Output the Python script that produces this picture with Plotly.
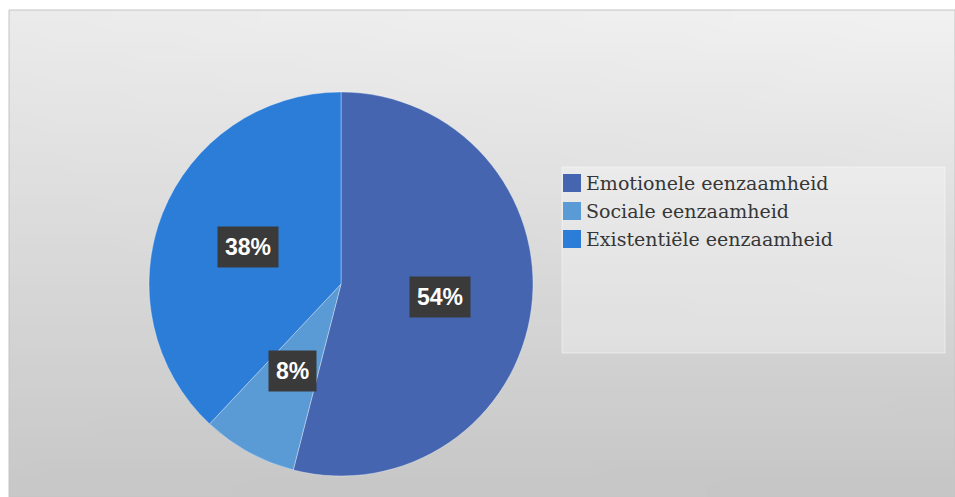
import base64
import math
import struct
import zlib

import plotly.graph_objects as go

# Survey breakdown of loneliness types
labels = ["Emotionele eenzaamheid", "Sociale eenzaamheid", "Existentiële eenzaamheid"]
values = [54, 8, 38]
colors = ["#4565b0", "#5b9bd5", "#2b7dd8"]

W, H = 955, 497

# Pie geometry in pixels
CX, CY, R = 341, 284, 192


def gradient_png(w, h, tl, tr, bl, br):
    """Small bilinear grey gradient encoded as a PNG data URI."""
    rows = b""
    for j in range(h):
        v = j / (h - 1)
        row = b"\x00"
        for i in range(w):
            u = i / (w - 1)
            c = (tl * (1 - u) * (1 - v) + tr * u * (1 - v)
                 + bl * (1 - u) * v + br * u * v)
            c = int(round(c))
            row += bytes([c, c, c])
        rows += row

    def chunk(tag, data):
        return (struct.pack(">I", len(data)) + tag + data
                + struct.pack(">I", zlib.crc32(tag + data) & 0xFFFFFFFF))

    png = b"\x89PNG\r\n\x1a\n"
    png += chunk(b"IHDR", struct.pack(">IIBBBBB", w, h, 8, 2, 0, 0, 0))
    png += chunk(b"IDAT", zlib.compress(rows, 9))
    png += chunk(b"IEND", b"")
    return "data:image/png;base64," + base64.b64encode(png).decode()


bg = gradient_png(32, 24, 0xEB, 0xF1, 0xC8, 0xC6)

fig = go.Figure()

fig.add_trace(go.Pie(
    labels=labels,
    values=values,
    marker=dict(colors=colors, line=dict(color="rgba(255,255,255,0.35)", width=1)),
    sort=False,
    direction="clockwise",
    rotation=0,
    textinfo="none",
    hoverinfo="label+percent",
    showlegend=False,
    domain=dict(x=[(CX - R) / W, (CX + R) / W],
                y=[1 - (CY + R) / H, 1 - (CY - R) / H]),
))

# Percentage labels placed at the middle of each slice
total = sum(values)
annotations = []
cum = 0
for lab, val in zip(labels, values):
    mid = (cum + val / 2) / total * 2 * math.pi
    cum += val
    r = 0.52 * R
    px = CX + r * math.sin(mid)
    py = CY - r * math.cos(mid)
    annotations.append(dict(
        x=px / W, y=1 - py / H, xref="paper", yref="paper",
        text=f"<b>{round(val / total * 100)}%</b>",
        showarrow=False,
        font=dict(family="Liberation Sans, Arial, sans-serif", size=23, color="#ffffff"),
        bgcolor="#3a3a3a",
        borderpad=7,
        xanchor="center", yanchor="middle",
    ))

# Legend panel
LX0, LY0, LX1, LY1 = 562, 167, 945, 353
shapes = [
    dict(type="rect", xref="paper", yref="paper",
         x0=9 / W, x1=1.0, y0=0, y1=1 - 10 / H,
         line=dict(color="#c4c4c4", width=1), fillcolor="rgba(0,0,0,0)", layer="below"),
    dict(type="rect", xref="paper", yref="paper",
         x0=LX0 / W, x1=LX1 / W, y0=1 - LY1 / H, y1=1 - LY0 / H,
         line=dict(color="rgba(255,255,255,0.45)", width=1),
         fillcolor="rgba(255,255,255,0.30)", layer="below"),
]
ROW0, ROW_STEP, SQ = 183, 28, 18
for k, (lab, col) in enumerate(zip(labels, colors)):
    yc = ROW0 + k * ROW_STEP
    shapes.append(dict(
        type="rect", xref="paper", yref="paper",
        x0=(LX0 + 1) / W, x1=(LX0 + 1 + SQ) / W,
        y0=1 - (yc + SQ / 2) / H, y1=1 - (yc - SQ / 2) / H,
        line=dict(width=0), fillcolor=col,
    ))
    annotations.append(dict(
        x=(LX0 + SQ + 4) / W, y=1 - yc / H, xref="paper", yref="paper",
        text=lab, showarrow=False,
        font=dict(family="DejaVu Serif, Liberation Serif, serif", size=19, color="#363636"),
        xanchor="left", yanchor="middle",
    ))

fig.update_layout(
    width=W, height=H,
    margin=dict(l=0, r=0, t=0, b=0),
    paper_bgcolor="#ffffff",
    plot_bgcolor="rgba(0,0,0,0)",
    images=[dict(source=bg, xref="paper", yref="paper",
                 x=9 / W, y=1 - 10 / H, sizex=1 - 9 / W, sizey=1 - 10 / H,
                 sizing="stretch", xanchor="left", yanchor="top", layer="below")],
    shapes=shapes,
    annotations=annotations,
)

fig.write_html("out.html")
